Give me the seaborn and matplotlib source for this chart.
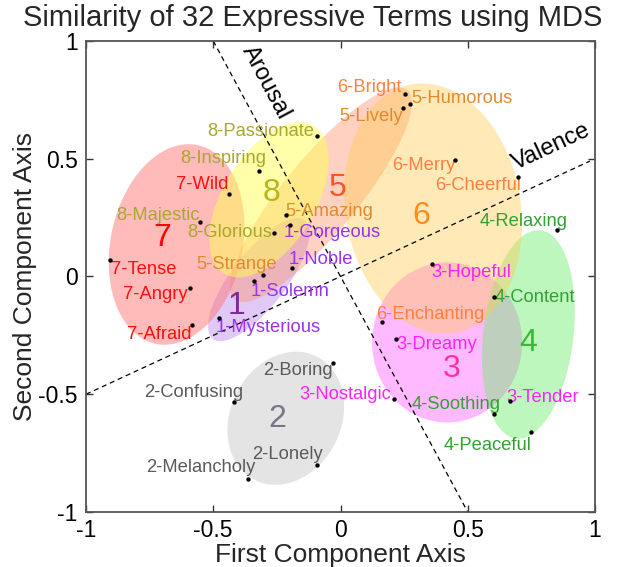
import numpy as np
import pandas as pd
import matplotlib
matplotlib.use("Agg")
import matplotlib.pyplot as plt
import seaborn as sns
from matplotlib.patches import Ellipse

# ---------------- data ----------------
terms = ["1-Mysterious", "1-Solemn", "1-Noble", "1-Gorgeous",
         "2-Boring", "2-Confusing", "2-Lonely", "2-Melancholy",
         "3-Hopeful", "3-Dreamy", "3-Nostalgic", "3-Tender",
         "4-Relaxing", "4-Content", "4-Soothing", "4-Peaceful",
         "5-Lively", "5-Humorous", "5-Amazing", "5-Strange",
         "6-Bright", "6-Merry", "6-Cheerful", "6-Enchanting",
         "7-Wild", "7-Tense", "7-Angry", "7-Afraid",
         "8-Passionate", "8-Inspiring", "8-Majestic", "8-Glorious"]
first_axis = [-0.477, -0.339, -0.190, -0.199,
              -0.031, -0.418, -0.093, -0.363,
              0.360, 0.219, 0.212, 0.667,
              0.851, 0.602, 0.603, 0.750,
              0.247, 0.274, -0.215, -0.305,
              0.255, 0.451, 0.698, 0.162,
              -0.439, -0.906, -0.591, -0.582,
              -0.094, -0.320, -0.553, -0.261]
second_axis = [-0.175, -0.021, 0.037, 0.220,
               -0.369, -0.535, -0.800, -0.860,
               0.051, -0.264, -0.521, -0.530,
               0.196, -0.088, -0.585, -0.662,
               0.715, 0.733, 0.260, 0.008,
               0.774, 0.496, 0.422, -0.192,
               0.352, 0.068, -0.048, -0.206,
               0.596, 0.450, 0.230, 0.185]

groups = ["1", "2", "3", "4", "5", "6", "7", "8"]
# cluster ellipses (center x, center y, width, height, angle) in data units
ell_cx = [-0.321, -0.215, 0.419, 0.738, -0.077, 0.364, -0.644, -0.281]
ell_cy = [-0.013, -0.602, -0.280, -0.246, 0.347, 0.288, 0.136, 0.326]
ell_w = [0.62, 0.44, 0.59, 0.355, 1.12, 0.69, 0.52, 0.72]
ell_h = [0.22, 0.58, 0.68, 0.89, 0.30, 1.07, 0.86, 0.37]
ell_ang = [55, -20, 0, -6, 53, 8, -10, 62]
# cluster number label positions
num_x = [-0.41, -0.247, 0.435, 0.737, -0.011, 0.317, -0.70, -0.273]
num_y = [-0.126, -0.606, -0.394, -0.281, 0.376, 0.255, 0.164, 0.354]

# reference directions
valence_slope = 0.5
arousal_slope = -2.0
valence_x = [-1.0, 0.98]
arousal_y = [1.0, -1.0]

ticks = [-1, -0.5, 0, 0.5, 1]
tick_labels = ["-1", "-0.5", "0", "0.5", "1"]

# ---------------- styles ----------------
text_colors = {"1": "#9933ee", "2": "#5a5a5a", "3": "#ff22ff", "4": "#33a033",
               "5": "#e08a30", "6": "#ff8040", "7": "#ff1010", "8": "#a8a830"}
num_colors = {"1": "#7a2a9a", "2": "#777788", "3": "#ff3399", "4": "#33bb33",
              "5": "#ff5522", "6": "#ff8c1a", "7": "#ff0000", "8": "#b5b520"}
fill_colors = {"1": "#bb88ee", "2": "#c0c0c0", "3": "#ff66ff", "4": "#66ee66",
               "5": "#ff9977", "6": "#ffcc55", "7": "#ff7777", "8": "#ffff55"}
fill_alpha = {"1": 0.45, "2": 0.42, "3": 0.45, "4": 0.42,
              "5": 0.45, "6": 0.42, "7": 0.5, "8": 0.5}

# label placement: (ha, dx px, dy px)
label_pos = {
    "1-Mysterious": ("left", -3, -10), "1-Solemn": ("left", -4, -10),
    "1-Noble": ("left", -4, 8), "1-Gorgeous": ("left", -6, -8),
    "2-Boring": ("right", 0, -7), "2-Confusing": ("right", 9, 10),
    "2-Lonely": ("right", 6, 10), "2-Melancholy": ("right", 7, 12),
    "3-Hopeful": ("left", -1, -8), "3-Dreamy": ("left", 0, -6),
    "3-Nostalgic": ("right", -3, 5), "3-Tender": ("left", -4, 4),
    "4-Relaxing": ("right", 11, 9), "4-Content": ("left", 1, 0),
    "4-Soothing": ("right", 7, 10), "4-Peaceful": ("right", 0, -13),
    "5-Lively": ("right", 0, -8), "5-Humorous": ("left", 1, 5),
    "5-Amazing": ("left", 0, 4), "5-Strange": ("right", 14, 10),
    "6-Bright": ("right", -4, 7), "6-Merry": ("right", 0, -6),
    "6-Cheerful": ("right", 3, -8), "6-Enchanting": ("left", -6, 7),
    "7-Wild": ("right", 0, 9), "7-Tense": ("left", 1, -9),
    "7-Angry": ("right", -2, -7), "7-Afraid": ("right", -1, -9),
    "8-Passionate": ("right", -2, 5), "8-Inspiring": ("right", 7, 12),
    "8-Majestic": ("right", 0, 7), "8-Glorious": ("right", -2, 0),
}

df = pd.DataFrame({"term": terms, "x": first_axis, "y": second_axis})
df["group"] = df["term"].str.split("-").str[0]

sns.set_theme(style="ticks")
plt.rcParams["font.family"] = ["Liberation Sans", "DejaVu Sans"]

fig = plt.figure(figsize=(6.25, 5.67), dpi=100)
ax = fig.add_axes([0.1376, 0.0970, 0.8144, 0.8307])

# ellipses
for g, cx, cy, w, h, a in zip(groups, ell_cx, ell_cy, ell_w, ell_h, ell_ang):
    e = Ellipse((cx, cy), w, h, angle=a, facecolor=fill_colors[g],
                alpha=fill_alpha[g], edgecolor="none", zorder=1)
    ax.add_patch(e)

# reference lines
vx = np.array(valence_x)
ax.plot(vx, valence_slope * vx, color="black", ls=(0, (4, 3)), lw=0.9, zorder=2)
ay = np.array(arousal_y)
ax.plot(ay / arousal_slope, ay, color="black", ls=(0, (4, 3)), lw=0.9, zorder=2)
ax.text(0.829, 0.551, "Valence", rotation=25, ha="center", va="center",
        fontsize=17, color="black", zorder=5)
ax.text(-0.293, 0.822, "Arousal", rotation=-62, ha="center", va="center",
        fontsize=17, color="black", zorder=5)

# points
sns.scatterplot(data=df, x="x", y="y", color="black", s=10, linewidth=0,
                ax=ax, zorder=6, legend=False)

# term labels
for _, r in df.iterrows():
    ha, dx, dy = label_pos[r["term"]]
    ax.annotate(r["term"], (r["x"], r["y"]), xytext=(dx, dy),
                textcoords="offset pixels", ha=ha, va="center",
                fontsize=13.2, color=text_colors[r["group"]], zorder=4)

# cluster numbers
for g, nx, ny in zip(groups, num_x, num_y):
    ax.text(nx, ny, g, ha="center", va="center", fontsize=23,
            color=num_colors[g], zorder=4)

ax.set_xlim(-1, 1)
ax.set_ylim(-1, 1)
ax.set_xticks(ticks)
ax.set_xticklabels(tick_labels)
ax.set_yticks(ticks)
ax.set_yticklabels(tick_labels)
ax.tick_params(direction="in", length=5, width=1, top=True, right=True,
               labelsize=16.5, colors="#333333", labelcolor="black")
ax.tick_params(axis="x", pad=5)
ax.tick_params(axis="y", pad=6)
for s in ax.spines.values():
    s.set_color("#555555")
    s.set_linewidth(1.3)
ax.set_xlabel("First Component Axis", fontsize=19, labelpad=1)
ax.set_ylabel("Second Component Axis", fontsize=19, labelpad=1)
fig.text(0.5, 1 - 18 / 567, "Similarity of 32 Expressive Terms using MDS",
         ha="center", va="center", fontsize=21)

fig.savefig("out.png", dpi=100)
